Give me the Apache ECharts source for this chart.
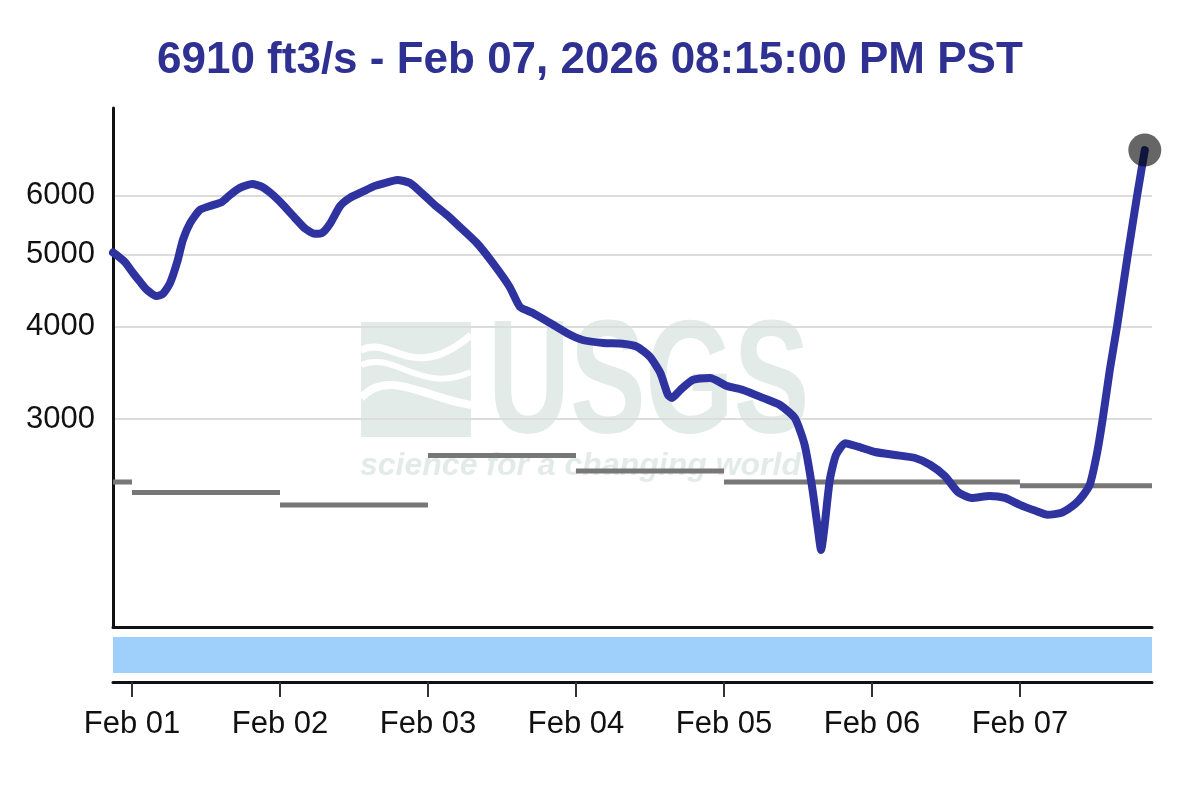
<!DOCTYPE html>
<html>
<head>
<meta charset="utf-8">
<script src="https://cdn.jsdelivr.net/npm/echarts@6/dist/echarts.min.js"></script>
<style>html,body{margin:0;padding:0;background:#fff}#c{width:1200px;height:790px}</style>
</head>
<body>
<div id="c"></div>
<script>
// ---------------- data ----------------
const titleText = '6910 ft3/s - Feb 07, 2026 08:15:00 PM PST';

const flowTimes = [
  '2026-01-31T20:55','2026-01-31T21:15','2026-01-31T22:50','2026-02-01T00:10','2026-02-01T01:20','2026-02-01T02:25',
  '2026-02-01T04:00','2026-02-01T05:00','2026-02-01T06:10','2026-02-01T07:20','2026-02-01T08:15','2026-02-01T09:25',
  '2026-02-01T11:00','2026-02-01T12:40','2026-02-01T14:35','2026-02-01T15:55','2026-02-01T17:30','2026-02-01T19:30',
  '2026-02-01T21:05','2026-02-01T22:40','2026-02-02T00:30','2026-02-02T02:25','2026-02-02T04:05','2026-02-02T05:40',
  '2026-02-02T06:50','2026-02-02T08:05','2026-02-02T09:45','2026-02-02T11:20','2026-02-02T13:20','2026-02-02T15:25',
  '2026-02-02T17:00','2026-02-02T19:00','2026-02-02T21:05','2026-02-02T23:10','2026-02-03T01:05','2026-02-03T03:05',
  '2026-02-03T05:10','2026-02-03T07:55','2026-02-03T10:30','2026-02-03T13:15','2026-02-03T14:55','2026-02-03T17:00',
  '2026-02-03T19:45','2026-02-03T22:30','2026-02-04T01:05','2026-02-04T04:25','2026-02-04T07:35','2026-02-04T09:55',
  '2026-02-04T12:00','2026-02-04T13:40','2026-02-04T14:55','2026-02-04T15:35','2026-02-04T16:55','2026-02-04T19:00',
  '2026-02-04T21:45','2026-02-05T00:30','2026-02-05T03:05','2026-02-05T06:20','2026-02-05T09:05','2026-02-05T11:30',
  '2026-02-05T13:05','2026-02-05T14:15','2026-02-05T15:15','2026-02-05T15:45','2026-02-05T16:20','2026-02-05T17:10',
  '2026-02-05T18:10','2026-02-05T19:40','2026-02-05T21:45','2026-02-06T00:30','2026-02-06T03:45','2026-02-06T07:00',
  '2026-02-06T09:25','2026-02-06T11:50','2026-02-06T13:55','2026-02-06T16:10','2026-02-06T19:05','2026-02-06T21:35',
  '2026-02-07T00:00','2026-02-07T02:25','2026-02-07T04:30','2026-02-07T06:45','2026-02-07T08:55','2026-02-07T10:15',
  '2026-02-07T11:20','2026-02-07T12:30','2026-02-07T13:25','2026-02-07T14:35','2026-02-07T15:45','2026-02-07T17:30',
  '2026-02-07T19:00','2026-02-07T20:15'
];
const flowValues = [
  5030,5010,4885,4720,4590,4480,
  4395,4425,4575,4885,5230,5510,
  5740,5810,5885,6015,6145,6220,
  6165,6030,5830,5600,5415,5330,
  5345,5495,5810,5960,6070,6185,
  6240,6300,6240,6030,5830,5650,
  5445,5180,4870,4520,4250,4170,
  4045,3920,3835,3800,3790,3755,
  3640,3465,3235,3205,3285,3390,
  3410,3325,3285,3205,3135,3010,
  2770,2445,2130,2000,2160,2485,
  2685,2785,2755,2710,2685,2660,
  2605,2515,2395,2350,2365,2350,
  2300,2260,2230,2245,2305,2370,
  2450,2700,3000,3500,4000,5000,
  6000,6910
];

// daily median of daily mean discharge (gray steps)
const medianStarts = ['2026-01-31T20:55','2026-02-01T00:00','2026-02-02T00:00','2026-02-03T00:00','2026-02-04T00:00','2026-02-05T00:00','2026-02-06T00:00','2026-02-07T00:00'];
const medianEnds   = ['2026-02-01T00:00','2026-02-02T00:00','2026-02-03T00:00','2026-02-04T00:00','2026-02-05T00:00','2026-02-06T00:00','2026-02-07T00:00','2026-02-07T21:25'];
const medianValues = [2470, 2390, 2300, 2680, 2555, 2470, 2470, 2440];

// provisional-data band
const provisionalSpan = ['2026-01-31T20:55', '2026-02-07T21:25'];

const xRange = ['2026-01-31T20:55', '2026-02-07T21:25'];
const yRange = [1575, 7874];
const yTickValues = [3000, 4000, 5000, 6000];
const xTickDates = ['2026-02-01T00:00','2026-02-02T00:00','2026-02-03T00:00','2026-02-04T00:00','2026-02-05T00:00','2026-02-06T00:00','2026-02-07T00:00'];
const xTickLabels = ['Feb 01','Feb 02','Feb 03','Feb 04','Feb 05','Feb 06','Feb 07'];

// ---------------- build ----------------
const T = s => echarts.time.parse(s).getTime();
const flowData = flowTimes.map((t, i) => [T(t), flowValues[i]]);
const lastPoint = flowData[flowData.length - 1];
const medianData = [];
medianValues.forEach((v, i) => {
  medianData.push([T(medianStarts[i]), v]);
  medianData.push([T(medianEnds[i]), v]);
  medianData.push([T(medianEnds[i]), '-']);
});
const xTickTs = xTickDates.map(T);
const FONT = '"Liberation Sans", Arial, Helvetica, sans-serif';
const WM = '#e3ebe9';

const chart = echarts.init(document.getElementById('c'), null, {renderer: 'canvas'});
chart.setOption({
  backgroundColor: '#fff',
  animation: false,
  title: {
    text: titleText, left: 157, top: 39, padding: 0,
    textStyle: {fontFamily: FONT, fontSize: 44, fontWeight: 'bold', color: '#2e3192'}
  },
  grid: [
    {left: 113, right: 48, top: 108, height: 519},
    {left: 113, right: 48, top: 637, height: 36}
  ],
  xAxis: [
    {gridIndex: 0, type: 'value', min: T(xRange[0]), max: T(xRange[1]),
     axisLine: {show: true, onZero: false, lineStyle: {color: '#111', width: 3}},
     axisTick: {show: false}, axisLabel: {show: false}, splitLine: {show: false}},
    {gridIndex: 1, type: 'value', min: T(xRange[0]), max: T(xRange[1]), position: 'bottom', offset: 9,
     axisLine: {show: true, onZero: false, lineStyle: {color: '#111', width: 3}},
     axisTick: {show: true, length: 15, customValues: xTickTs, lineStyle: {color: '#333', width: 2}},
     axisLabel: {customValues: xTickTs, margin: 27, fontSize: 31, color: '#111', fontFamily: FONT,
       formatter: v => { const i = xTickTs.indexOf(v); return i >= 0 ? xTickLabels[i] : ''; }},
     splitLine: {show: false}}
  ],
  yAxis: [
    {gridIndex: 0, type: 'log', logBase: 10, min: yRange[0], max: yRange[1],
     axisLine: {show: true, lineStyle: {color: '#111', width: 3}},
     axisTick: {show: false, customValues: yTickValues},
     axisLabel: {customValues: yTickValues, margin: 18, fontSize: 31, color: '#111', fontFamily: FONT,
       formatter: v => String(Math.round(v))},
     splitLine: {show: true, lineStyle: {color: '#dcdcdc', width: 2}}},
    {gridIndex: 1, type: 'value', min: 0, max: 1, show: false}
  ],
  graphic: [
    {type: 'rect', z: -1, silent: true, shape: {x: 361, y: 322, width: 110, height: 115}, style: {fill: WM}},
    {type: 'bezierCurve', z: -1, silent: true, shape: {x1: 361, y1: 350, cpx1: 392, cpy1: 335, cpx2: 412, cpy2: 385, x2: 471, y2: 335}, style: {stroke: '#fff', lineWidth: 7, fill: null}},
    {type: 'bezierCurve', z: -1, silent: true, shape: {x1: 361, y1: 365, cpx1: 395, cpy1: 350, cpx2: 420, cpy2: 395, x2: 471, y2: 372}, style: {stroke: '#fff', lineWidth: 6, fill: null}},
    {type: 'bezierCurve', z: -1, silent: true, shape: {x1: 361, y1: 398, cpx1: 388, cpy1: 368, cpx2: 425, cpy2: 398, x2: 471, y2: 405}, style: {stroke: '#fff', lineWidth: 8, fill: null}},
    {type: 'text', z: -1, silent: true, x: 488, y: 306, scaleX: 0.7,
     style: {text: 'USGS', fontFamily: FONT, fontSize: 162, fontWeight: 'bold', fill: WM}},
    {type: 'text', z: -1, silent: true, x: 360, y: 450,
     style: {text: 'science for a changing world', fontFamily: FONT, fontSize: 32, fontWeight: 'bold', fontStyle: 'italic', fill: WM}}
  ],
  series: [
    {type: 'line', xAxisIndex: 1, yAxisIndex: 1, data: provisionalSpan.map(t => [T(t), 1]),
     showSymbol: false, symbol: 'none', lineStyle: {width: 0}, areaStyle: {color: '#9fd0fb', opacity: 1}, silent: true},
    {type: 'line', xAxisIndex: 0, yAxisIndex: 0, data: medianData, connectNulls: false,
     showSymbol: false, symbol: 'none', z: 2, lineStyle: {color: '#777', width: 5, cap: 'butt'}, silent: true},
    {type: 'line', xAxisIndex: 0, yAxisIndex: 0, data: flowData, smooth: 0.2,
     showSymbol: false, symbol: 'none', z: 3, lineStyle: {color: '#2e33a0', width: 8, join: 'round', cap: 'round'}, silent: true},
    {type: 'scatter', xAxisIndex: 0, yAxisIndex: 0, data: [lastPoint], symbolSize: 33, z: 4,
     itemStyle: {color: 'rgba(0,0,0,0.6)', opacity: 1}, silent: true}
  ]
});
</script>
</body>
</html>
